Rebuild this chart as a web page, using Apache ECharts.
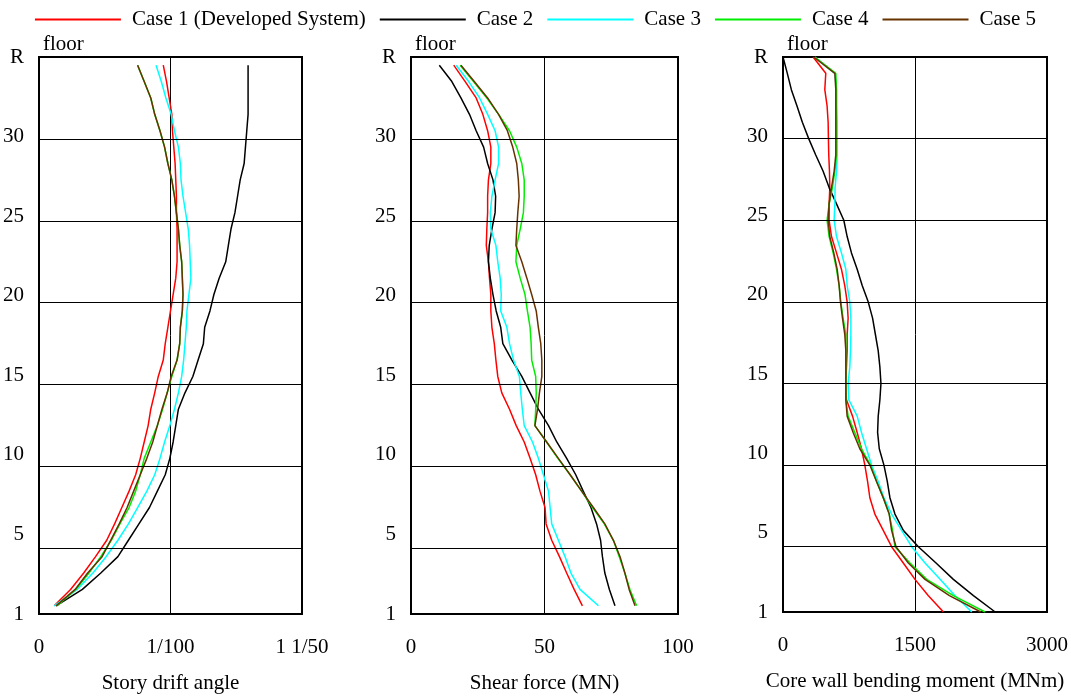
<!DOCTYPE html>
<html>
<head>
<meta charset="utf-8">
<script src="https://cdn.jsdelivr.net/npm/echarts@6/dist/echarts.min.js"></script>
<style>
  html, body { margin: 0; padding: 0; background: #fff; }
  #chart { width: 1071px; height: 699px; }
</style>
</head>
<body>
<div id="chart"></div>
<script>
// legend names
const caseNames = ['Case 1 (Developed System)', 'Case 2', 'Case 3', 'Case 4', 'Case 5']
const caseColors = ['#ff0000', '#000000', '#00ffff', '#00ee00', '#663300']

// mid-story heights (story drift / shear), bottom to top
const storyLevels = [1.5, 2.5, 3.5, 4.5, 5.5, 6.5, 7.5, 8.5, 9.5, 10.5, 11.5, 12.5, 13.5, 14.5, 15.5, 16.5, 17.5,
  18.5, 19.5, 20.5, 21.5, 22.5, 23.5, 24.5, 25.5, 26.5, 27.5, 28.5, 29.5, 30.5, 31.5, 32.5, 33.5, 34.5]
// floor levels (core wall moment), 1 .. R(35)
const floorLevels = [1, 2, 3, 4, 5, 6, 7, 8, 9, 10, 11, 12, 13, 14, 15, 16, 17, 18, 19, 20, 21, 22, 23, 24, 25,
  26, 27, 28, 29, 30, 31, 32, 33, 34, 35]

// y axis tick labels (drawn evenly spaced from floor 1 to R, as in the original)
const floorTickLabels = ['1', '5', '10', '15', '20', '25', '30', 'R']
const floorGridLines = [5, 10, 15, 20, 25, 30]

// story drift angle, in 1/1000 rad
const drift1 = [1.16, 2.4, 3.4, 4.3, 5.15, 5.75, 6.3, 6.85, 7.35, 7.7, 8.0, 8.3, 8.5, 8.8, 9.07, 9.45, 9.6,
  9.8, 10.0, 10.2, 10.4, 10.5, 10.5, 10.5, 10.45, 10.45, 10.4, 10.35, 10.25, 10.15, 10.1, 9.9, 9.7, 9.45]
const drift2 = [1.3, 3.3, 4.7, 6.0, 6.8, 7.6, 8.4, 9.0, 9.6, 9.95, 10.2, 10.4, 10.6, 11.1, 11.7, 12.1, 12.5,
  12.6, 13.0, 13.3, 13.7, 14.2, 14.4, 14.6, 14.9, 15.1, 15.3, 15.6, 15.7, 15.8, 15.9, 15.9, 15.9, 15.9]
const drift3 = [1.16, 2.9, 4.1, 5.1, 6.0, 6.8, 7.5, 8.2, 8.8, 9.2, 9.55, 9.95, 10.3, 10.6, 10.85, 11.0, 11.1,
  11.2, 11.25, 11.4, 11.55, 11.5, 11.45, 11.35, 11.15, 10.95, 10.8, 10.75, 10.6, 10.3, 10.05, 9.65, 9.3, 8.9]
const drift4 = [1.36, 2.8, 3.8, 4.7, 5.5, 6.15, 6.85, 7.35, 7.7, 8.0, 8.5, 9.0, 9.4, 9.75, 10.1, 10.5, 10.7,
  10.75, 10.9, 10.95, 10.9, 10.85, 10.7, 10.6, 10.45, 10.3, 10.1, 9.8, 9.55, 9.2, 8.8, 8.5, 8.0, 7.5]
const drift5 = [1.3, 2.75, 3.7, 4.8, 5.45, 6.1, 6.7, 7.2, 7.7, 8.2, 8.65, 9.0, 9.35, 9.75, 10.05, 10.5, 10.7,
  10.75, 10.9, 10.95, 10.9, 10.85, 10.7, 10.6, 10.45, 10.3, 10.1, 9.8, 9.55, 9.2, 8.8, 8.5, 8.0, 7.5]

// shear force (MN)
const shear1 = [64.2, 61.1, 58.3, 55.6, 52.7, 50.6, 50.2, 48.3, 46.7, 44.6, 42.4, 39.4, 36.9, 34.0, 32.5, 31.8, 31.2,
  30.3, 29.9, 29.9, 29.4, 29.0, 28.2, 28.4, 28.7, 28.7, 29.0, 29.9, 29.9, 28.7, 26.9, 24.4, 20.3, 16.0]
const shear2 = [76.4, 74.3, 72.6, 71.7, 71.0, 69.5, 67.4, 64.5, 61.7, 58.3, 54.6, 51.5, 47.7, 44.6, 41.5, 37.8, 34.4,
  33.6, 31.9, 30.7, 29.7, 29.0, 29.3, 30.3, 31.5, 31.7, 30.7, 28.7, 27.2, 24.4, 21.9, 18.7, 15.3, 10.6]
const shear3 = [70.2, 63.3, 59.9, 57.7, 55.2, 52.7, 52.1, 51.5, 49.6, 47.7, 45.5, 42.4, 41.7, 41.1, 40.6, 38.4, 36.9,
  35.9, 33.6, 33.8, 33.4, 32.5, 31.8, 29.9, 29.7, 30.3, 31.5, 32.8, 32.8, 31.5, 28.7, 25.7, 21.6, 16.9]
const shear4 = [84.5, 82.0, 80.1, 78.0, 75.8, 72.4, 68.0, 63.9, 59.6, 55.0, 50.8, 46.4, 46.7, 46.9, 46.7, 45.2, 45.0,
  44.6, 43.6, 42.7, 40.9, 39.3, 39.6, 40.9, 42.1, 42.4, 42.4, 41.5, 39.6, 36.9, 32.8, 28.4, 23.4, 18.4]
const shear5 = [83.9, 81.7, 80.1, 78.3, 75.8, 72.6, 68.3, 63.9, 59.6, 55.2, 50.8, 46.4, 47.4, 48.1, 49.0, 49.0, 48.6,
  47.7, 46.9, 45.2, 43.4, 41.5, 39.3, 39.6, 40.0, 40.5, 40.2, 39.6, 38.1, 36.1, 32.8, 28.7, 23.7, 18.7]

// core wall bending moment (MNm)
const moment1 = [1823, 1652, 1500, 1367, 1234, 1139, 1044, 987, 961, 930, 892, 843, 790, 721, 714, 721, 729, 729,
  740, 729, 702, 664, 608, 551, 524, 524, 532, 528, 520, 516, 513, 501, 475, 486, 342]
const moment2 = [2411, 2164, 1936, 1739, 1538, 1367, 1272, 1215, 1185, 1147, 1094, 1075, 1082, 1101, 1113, 1101, 1082, 1050,
  1018, 968, 900, 843, 778, 729, 691, 608, 524, 456, 372, 292, 220, 159, 95, 49, 0]
const moment3 = [2145, 1955, 1785, 1614, 1462, 1348, 1234, 1147, 1082, 1006, 949, 892, 843, 748, 740, 759, 767, 771,
  771, 759, 729, 714, 664, 608, 581, 589, 592, 608, 615, 615, 615, 608, 608, 589, 361]
const moment4 = [2297, 1936, 1633, 1443, 1272, 1245, 1207, 1139, 1063, 995, 892, 816, 740, 714, 714, 714, 714, 714,
  683, 657, 638, 608, 570, 524, 501, 524, 562, 589, 608, 608, 608, 608, 608, 600, 361]
const moment5 = [2248, 1891, 1614, 1424, 1284, 1234, 1207, 1139, 1063, 987, 873, 797, 729, 714, 714, 714, 714, 702,
  676, 653, 638, 615, 577, 532, 513, 524, 551, 581, 600, 600, 600, 600, 600, 589, 349]

// x axis tick labels
const driftTickLabels = ['0', '1/100', '1 1/50']
const shearTickLabels = ['0', '50', '100']
const momentTickLabels = ['0', '1500', '3000']

const FONT = '"Liberation Serif", "Times New Roman", serif'
const Y_MIN = 1
const Y_MAX = 35
// label slots spread evenly over the axis
const floorTickPos = floorTickLabels.map((_, k) => Y_MIN + k * (Y_MAX - Y_MIN) / (floorTickLabels.length - 1))

const panels = [
  { title: 'Story drift angle', max: 20, ticks: driftTickLabels, levels: storyLevels, data: [drift1, drift2, drift3, drift4, drift5] },
  { title: 'Shear force (MN)', max: 100, ticks: shearTickLabels, levels: storyLevels, data: [shear1, shear2, shear3, shear4, shear5] },
  { title: 'Core wall bending moment (MNm)', max: 3000, ticks: momentTickLabels, levels: floorLevels, data: [moment1, moment2, moment3, moment4, moment5] }
]

const grids = [
  { left: 38, top: 57, width: 264, height: 560 },
  { left: 411, top: 57, width: 267, height: 558 },
  { left: 783, top: 57, width: 264, height: 555 }
]

const option = {
  backgroundColor: '#fff',
  animation: false,
  textStyle: { fontFamily: FONT, color: '#000' },
  legend: {
    data: caseNames,
    top: 4,
    left: 'center',
    icon: 'rect',
    itemWidth: 86,
    itemHeight: 2,
    itemGap: 14,
    textStyle: { fontFamily: FONT, fontSize: 21, color: '#000', padding: [0, 0, 0, 6] }
  },
  grid: grids.map(g => Object.assign({ show: true, borderColor: '#000', borderWidth: 2, backgroundColor: 'transparent' }, g)),
  xAxis: panels.map((p, i) => ({
    type: 'value',
    gridIndex: i,
    min: 0,
    max: p.max,
    interval: p.max / 2,
    axisLine: { show: false },
    axisTick: { show: false },
    splitLine: { show: true, lineStyle: { color: '#000', width: 1 } },
    axisLabel: {
      margin: 23,
      fontSize: 21,
      fontFamily: FONT,
      color: '#000',
      formatter: (v) => p.ticks[Math.round(v / (p.max / 2))]
    },
    name: p.title,
    nameLocation: 'middle',
    nameGap: 59,
    nameTextStyle: { fontSize: 21, fontFamily: FONT, color: '#000' }
  })),
  yAxis: panels.map((p, i) => ({
    type: 'value',
    gridIndex: i,
    min: Y_MIN,
    max: Y_MAX,
    axisLine: { show: false },
    axisTick: { show: false },
    splitLine: { show: false },
    axisLabel: {
      margin: 15,
      fontSize: 21,
      fontFamily: FONT,
      color: '#000',
      customValues: floorTickPos,
      formatter: (v) => {
        let k = 0
        floorTickPos.forEach((t, j) => { if (Math.abs(t - v) < Math.abs(floorTickPos[k] - v)) k = j })
        return floorTickLabels[k]
      }
    },
    name: 'floor',
    nameLocation: 'end',
    nameGap: 2,
    nameTextStyle: { fontSize: 21, fontFamily: FONT, color: '#000', align: 'left', padding: [0, 0, 0, 4] }
  })),
  series: []
}

panels.forEach((p, i) => {
  // horizontal floor grid lines
  option.series.push({
    name: 'gridlines' + i,
    type: 'line',
    xAxisIndex: i,
    yAxisIndex: i,
    data: [],
    silent: true,
    markLine: {
      silent: true,
      symbol: 'none',
      label: { show: false },
      lineStyle: { color: '#000', width: 1, type: 'solid' },
      data: floorGridLines.map(f => ({ yAxis: f }))
    }
  })
  p.data.forEach((vals, k) => {
    option.series.push({
      name: caseNames[k],
      type: 'line',
      xAxisIndex: i,
      yAxisIndex: i,
      symbol: 'none',
      lineStyle: { color: caseColors[k], width: 1.5 },
      itemStyle: { color: caseColors[k] },
      data: vals.map((v, j) => [v, p.levels[j]])
    })
  })
})

const myChart = echarts.init(document.getElementById('chart'))
myChart.setOption(option)
</script>
</body>
</html>
